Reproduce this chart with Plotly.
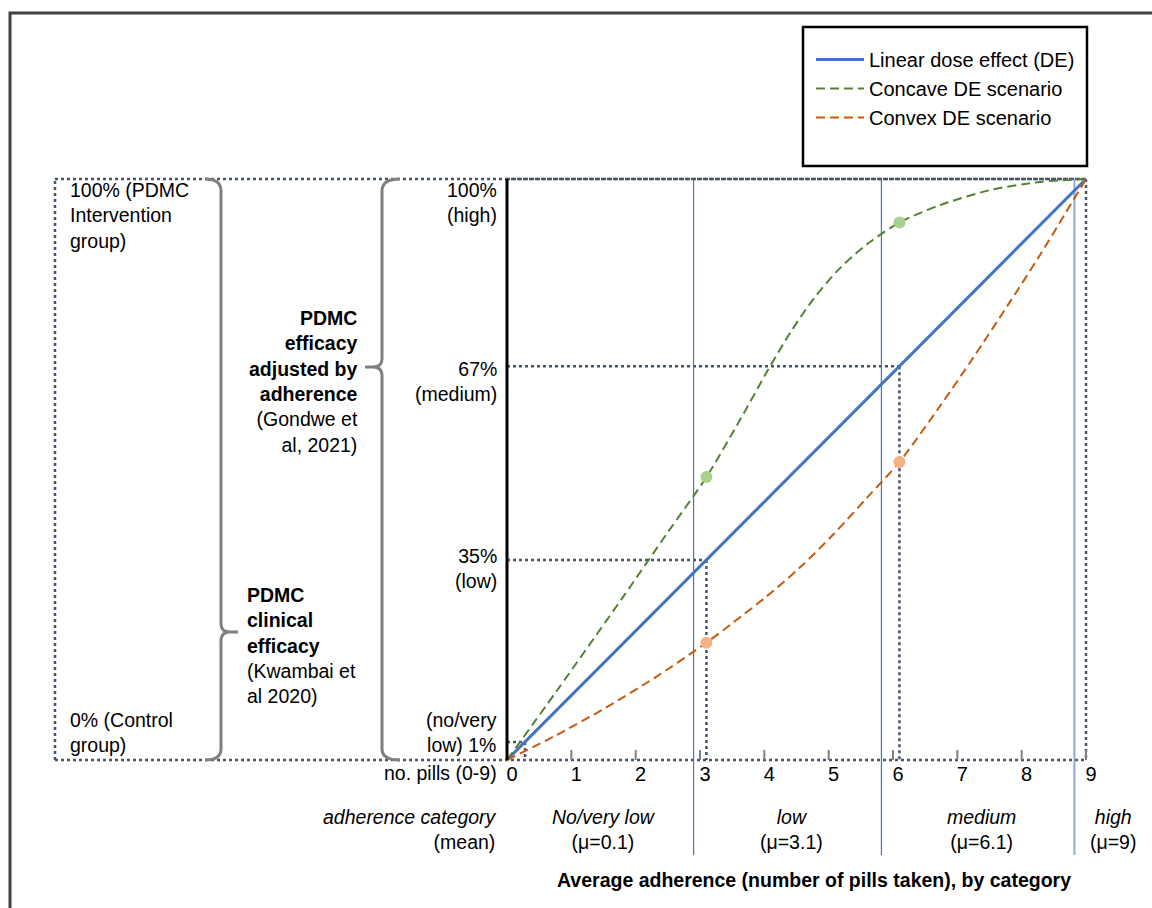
import numpy as np
import plotly.graph_objects as go

# ---------------- data ----------------
pills = list(range(10))                      # x tick values (no. pills 0-9)
pill_labels = [str(p) for p in pills]

linear_x = [0, 9]
linear_y = [0, 100]

concave_x = [0, 0.78, 1.8, 2.5, 3.1, 3.62, 4.06, 4.4, 4.76, 5.18, 5.6, 6.1, 6.73, 7.51, 8.29, 9]
concave_y = [0, 12.0, 28.0, 39.2, 48.7, 58.5, 67.2, 73.5, 79.3, 84.7, 88.8, 92.5, 95.5, 98.1, 99.5, 100]

convex_x = [0, 0.77, 1.55, 2.33, 3.1, 3.52, 4.04, 4.56, 5.07, 5.6, 6.1, 6.73, 7.25, 7.78, 8.29, 9]
convex_y = [0, 4.3, 9.1, 14.4, 20.2, 23.7, 28.2, 33.2, 38.8, 45.2, 51.3, 60.9, 69.3, 78.2, 87.0, 100]

category_names = ["No/very low", "low", "medium", "high"]
category_means = [0.1, 3.1, 6.1, 9]
category_bounds = [0, 2.9, 5.82, 8.82, 9.9]   # category edges on the pills axis

marker_x = [3.1, 6.1]
concave_marker_y = [48.7, 92.5]
convex_marker_y = [20.2, 51.3]

ref_corner_x = [0.28, 3.1, 6.1, 9]            # dotted guide corners on the linear line

level_labels = ["100%<br>(high)", "67%<br>(medium)", "35%<br>(low)", "(no/very<br>low) 1%"]
level_values = [100, 67, 35, 1]

# ---------------- geometry of the canvas ----------------
W, H = 1152, 908
X0PX, UX = 507, (1086 - 507) / 9.0   # pixel of x=0, pixels per pill
Y0PX, UY = 760, (760 - 179) / 100.0  # pixel of y=0, pixels per percent


def dx(p):
    return (p - X0PX) / UX


def dy(p):
    return (Y0PX - p) / UY


def fx(p):
    return p / W


def fy(p):
    return 1 - p / H


FONT = "Arial, Liberation Sans, sans-serif"
FS = 19.5
DOT = "#44546A"
BLUE = "#4472C4"
GREEN = "#548235"
ORANGE = "#C55A11"

fig = go.Figure()

fig.add_trace(go.Scatter(x=linear_x, y=linear_y, mode="lines", name="Linear dose effect (DE)",
                         line=dict(color=BLUE, width=3), legendgroup="a", hoverinfo="skip"))
fig.add_trace(go.Scatter(x=concave_x, y=concave_y, mode="lines", name="Concave DE scenario",
                         line=dict(color=GREEN, width=2, dash="9px,5px", shape="spline", smoothing=0.8),
                         legendgroup="b", hoverinfo="skip"))
fig.add_trace(go.Scatter(x=convex_x, y=convex_y, mode="lines", name="Convex DE scenario",
                         line=dict(color=ORANGE, width=2, dash="9px,5px", shape="spline", smoothing=0.8),
                         legendgroup="c", hoverinfo="skip"))
fig.add_trace(go.Scatter(x=marker_x, y=concave_marker_y, mode="markers", showlegend=False,
                         marker=dict(color="#A9D18E", size=12), hoverinfo="skip"))
fig.add_trace(go.Scatter(x=marker_x, y=convex_marker_y, mode="markers", showlegend=False,
                         marker=dict(color="#F4B183", size=12), hoverinfo="skip"))

shapes = []
# dotted outer box of the efficacy range
left_box = dx(55)
for (x0, y0, x1, y1) in [(left_box, 100, 9, 100), (left_box, 0, 9, 0), (left_box, 0, left_box, 100)]:
    shapes.append(dict(type="line", xref="x", yref="y", x0=x0, y0=y0, x1=x1, y1=y1, layer="below",
                       line=dict(color=DOT, width=2.5, dash="dot")))
# dotted guides to the linear line
for cx in ref_corner_x:
    cy = float(np.interp(cx, linear_x, linear_y))
    shapes.append(dict(type="line", xref="x", yref="y", x0=0, y0=cy, x1=cx, y1=cy, layer="below",
                       line=dict(color=DOT, width=2.5, dash="dot")))
    shapes.append(dict(type="line", xref="x", yref="y", x0=cx, y0=cy, x1=cx, y1=0, layer="below",
                       line=dict(color=DOT, width=2.5, dash="dot")))
# category boundaries
bound_styles = [(BLUE, 1.2), (BLUE, 1.2), ("#8FAADC", 2)]
for b, (c, w) in zip(category_bounds[1:4], bound_styles):
    shapes.append(dict(type="line", xref="x", yref="y", x0=b, y0=100, x1=b, y1=dy(855), layer="below",
                       line=dict(color=c, width=w)))
# small grey tick marks on the pills axis
for p in pills[1:]:
    shapes.append(dict(type="line", xref="x", yref="y", x0=p, y0=0, x1=p, y1=10 / UY,
                       line=dict(color="#808080", width=2)))
# y axis line
shapes.append(dict(type="line", xref="x", yref="y", x0=0, y0=0, x1=0, y1=100,
                   line=dict(color="black", width=3)))


def path(pts):
    out = []
    for cmd, *coords in pts:
        s = cmd
        for i in range(0, len(coords), 2):
            s += f" {fx(coords[i]):.5f},{fy(coords[i + 1]):.5f}"
        out.append(s)
    return " ".join(out)


# right-facing brace "}" (clinical efficacy)
brace1 = path([("M", 205, 179), ("Q", 221, 179, 221, 191), ("L", 221, 624),
               ("Q", 221, 632, 230, 632), ("L", 238, 632), ("M", 230, 632),
               ("Q", 221, 632, 221, 641), ("L", 221, 749), ("Q", 221, 760, 205, 760)])
# left-facing brace "{" (adherence adjusted)
brace2 = path([("M", 400, 179), ("Q", 382, 179, 382, 191), ("L", 382, 359),
               ("Q", 382, 367, 373, 367), ("L", 365, 367), ("M", 373, 367),
               ("Q", 382, 367, 382, 376), ("L", 382, 749), ("Q", 382, 760, 400, 760)])
for p in (brace1, brace2):
    shapes.append(dict(type="path", xref="paper", yref="paper", path=p,
                       line=dict(color="#808080", width=3)))
# outer frame
shapes.append(dict(type="rect", xref="paper", yref="paper", x0=fx(10), y0=fy(13), x1=fx(W + 30),
                   y1=fy(H + 30), line=dict(color="#404040", width=3)))
# legend frame
shapes.append(dict(type="rect", xref="paper", yref="paper", x0=fx(803), y0=fy(27), x1=fx(1087),
                   y1=fy(166), line=dict(color="black", width=2.5)))

ann = []


def text(x, y, t, xanchor="center", yanchor="middle", align="center", xref="x", yref="y",
         size=FS, xshift=0, yshift=0):
    ann.append(dict(x=x, y=y, xref=xref, yref=yref, text=t, showarrow=False, xanchor=xanchor,
                    yanchor=yanchor, align=align, xshift=xshift, yshift=yshift,
                    font=dict(family=FONT, size=size, color="black")))


# level labels at the y axis
label_right = dx(499)
text(label_right, 100, level_labels[0], "right", "top", "right", yshift=2)
text(label_right, level_values[1], level_labels[1], "right", "top", "right", yshift=15)
text(label_right, level_values[2], level_labels[2], "right", "top", "right", yshift=14)
text(label_right, 0, level_labels[3], "right", "bottom", "right", yshift=2)
text(label_right, dy(773), "no. pills (0-9)", "right", "middle", "right")

# category labels
for i, (name, m) in enumerate(zip(category_names, category_means)):
    mid = (category_bounds[i] + category_bounds[i + 1]) / 2
    text(mid, dy(829), f"<i>{name}</i><br>(μ={m:g})", xshift=4)
text(label_right, dy(829), "<i>adherence category</i><br>(mean)", "right", "middle", "right")

text(fx(814), fy(880), "<b>Average adherence (number of pills taken), by category</b>",
     xref="paper", yref="paper")

# left block texts
text(fx(68), fy(177), "100% (PDMC<br>Intervention<br>group)", "left", "top", "left",
     xref="paper", yref="paper")
text(fx(68), fy(758), "0% (Control<br>group)", "left", "bottom", "left", xref="paper", yref="paper")
text(fx(360), fy(381),
     "<b>PDMC</b><br><b>efficacy</b><br><b>adjusted by</b><br><b>adherence</b><br>(Gondwe et<br>al, 2021)",
     "right", "middle", "right", xref="paper", yref="paper")
text(fx(245), fy(645),
     "<b>PDMC</b><br><b>clinical</b><br><b>efficacy</b><br>(Kwambai et<br>al 2020)",
     "left", "middle", "left", xref="paper", yref="paper")

fig.update_layout(
    width=W, height=H,
    margin=dict(l=0, r=0, t=0, b=0),
    paper_bgcolor="white", plot_bgcolor="white",
    shapes=shapes, annotations=ann,
    font=dict(family=FONT, size=FS, color="black"),
    xaxis=dict(range=[dx(0), dx(W)], anchor="free", position=fy(760), showgrid=False,
               zeroline=False, showline=False, tickvals=pills, ticktext=pill_labels,
               ticks="", ticklabelshift=5, tickfont=dict(family=FONT, size=20, color="black"),
               fixedrange=True),
    yaxis=dict(range=[dy(H), dy(0)], visible=False, fixedrange=True),
    legend=dict(x=fx(811), y=fy(40), xanchor="left", yanchor="top", bgcolor="rgba(0,0,0,0)",
                borderwidth=0, font=dict(family=FONT, size=20),
                tracegroupgap=15.5, itemwidth=48, traceorder="normal"),
    showlegend=True,
)

fig.write_html("out.html", config={"displayModeBar": False},
               post_script="document.body.style.margin='0';")
